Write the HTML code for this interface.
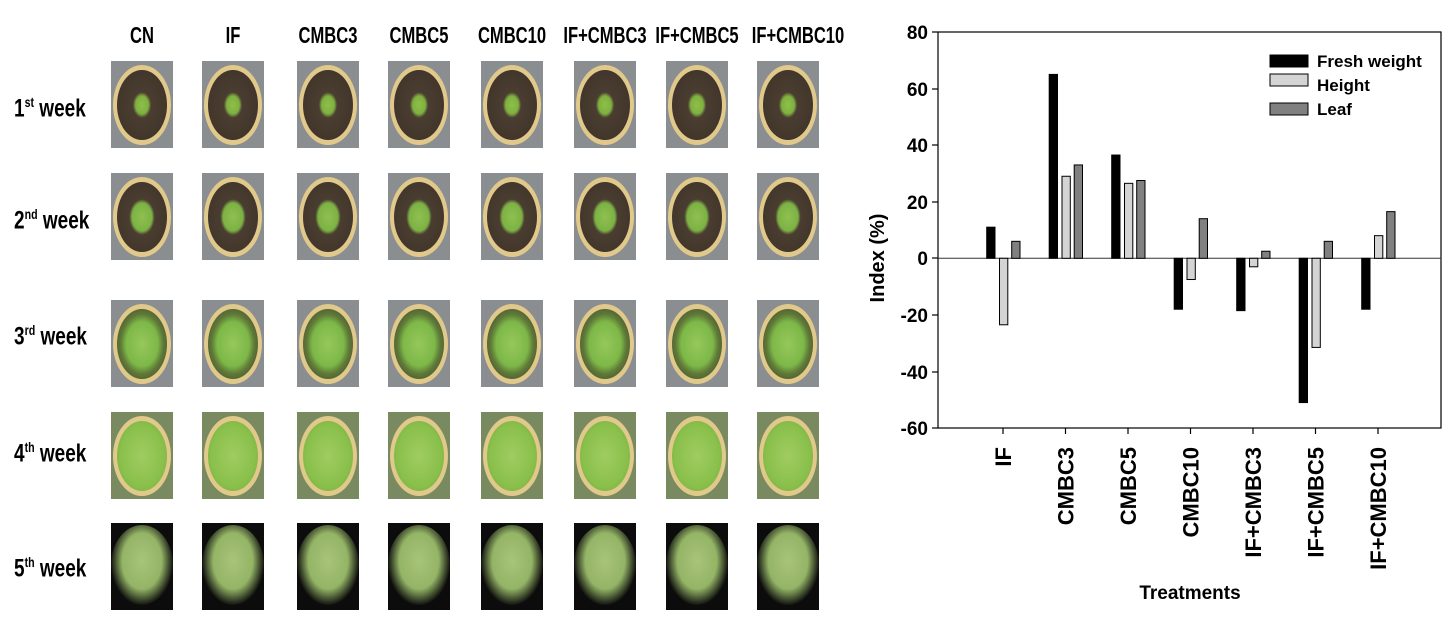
<!DOCTYPE html>
<html><head><meta charset="utf-8"><style>
body{margin:0;width:1455px;height:636px;background:#fff;position:relative;overflow:hidden;font-family:"Liberation Sans",sans-serif}
.h{position:absolute;top:22px;font-size:23px;font-weight:bold;transform:scaleX(.72);transform-origin:center;white-space:nowrap;text-align:center;width:140px;font-family:"Liberation Sans","Noto Sans CJK KR",sans-serif}
.w{position:absolute;left:14px;font-size:25px;font-weight:bold;transform:scaleX(.76);transform-origin:left;white-space:nowrap}
.w sup{font-size:14px}
.p{position:absolute;width:62px;height:87px;background:#8a8e90;overflow:hidden}
.p::before{content:"";position:absolute;left:2px;top:4px;width:58px;height:80px;border-radius:50%;background:#e0c98a}
.p::after{content:"";position:absolute;left:6px;top:9px;width:50px;height:70px;border-radius:50%;background:radial-gradient(ellipse at center,#8fbf4a 0,#7fb040 18%,#4a3d30 26%,#3d3128 100%)}
.r2::after{background:radial-gradient(ellipse at center,#8fc050 0,#7cb244 28%,#4a3d30 36%,#3d3128 100%)}
.r3::after{background:radial-gradient(ellipse at center,#96c85a 0,#7db848 45%,#5f7a38 60%,#3d3128 100%)}
.r4::after{background:radial-gradient(ellipse at center,#a0cc60 0,#8ac04c 60%,#78a840 100%)}
.r4{background:#7a8a60}
.r5{background:#0c0c0c}
.r5::before{background:radial-gradient(ellipse at 50% 45%,#a8c478 0,#94b466 45%,#0c0c0c 72%);left:0;top:2px;width:62px;height:80px}
.r5::after{display:none}
</style></head><body>
<div class="h" style="left:72px">CN</div>
<div class="h" style="left:163px">IF</div>
<div class="h" style="left:258px">CMBC3</div>
<div class="h" style="left:349px">CMBC5</div>
<div class="h" style="left:442px">CMBC10</div>
<div class="h" style="left:535px">IF+CMBC3</div>
<div class="h" style="left:627px">IF+CMBC5</div>
<div class="h" style="left:728px">IF+CMBC10</div>
<div class="w" style="top:94px">1<sup>st</sup> week</div>
<div class="w" style="top:206px">2<sup>nd</sup> week</div>
<div class="w" style="top:322px">3<sup>rd</sup> week</div>
<div class="w" style="top:439px">4<sup>th</sup> week</div>
<div class="w" style="top:554px">5<sup>th</sup> week</div>
<div id="grid"></div>
<script>
var xs=[111,202,297,388,481,574,666,757],ys=[61,173,300,412,523],h='';
for(var r=0;r<5;r++)for(var c=0;c<8;c++)h+='<div class="p r'+(r+1)+'" style="left:'+xs[c]+'px;top:'+ys[r]+'px"></div>';
document.getElementById('grid').innerHTML=h;
</script>
<svg width="1455" height="636" style="position:absolute;left:0;top:0" font-family="Liberation Sans, sans-serif" font-weight="bold">
<rect x="938" y="32" width="503" height="396" fill="none" stroke="#000" stroke-width="1.2"/>
<g font-size="19" text-anchor="end">
<text x="928" y="39">80</text><text x="928" y="96">60</text><text x="928" y="152">40</text><text x="928" y="209">20</text><text x="928" y="265">0</text><text x="928" y="322">-20</text><text x="928" y="379">-40</text><text x="928" y="435">-60</text>
</g>
<g stroke="#000" stroke-width="1.2">
<line x1="932" y1="32" x2="938" y2="32"/><line x1="932" y1="89" x2="938" y2="89"/><line x1="932" y1="145" x2="938" y2="145"/><line x1="932" y1="202" x2="938" y2="202"/><line x1="932" y1="258" x2="938" y2="258"/><line x1="932" y1="315" x2="938" y2="315"/><line x1="932" y1="372" x2="938" y2="372"/><line x1="932" y1="428" x2="938" y2="428"/>
</g>
<line x1="938" y1="258.3" x2="1441" y2="258.3" stroke="#333" stroke-width="1"/>
<g id="bars"></g>
<text transform="translate(884,258) rotate(-90)" font-size="20" text-anchor="middle">Index (%)</text>
<text x="1190" y="599" font-size="19" text-anchor="middle">Treatments</text>
<rect x="1270" y="55" width="38" height="12" fill="#000" stroke="#000"/>
<rect x="1270" y="74" width="38" height="12" fill="#d4d4d4" stroke="#000"/>
<rect x="1270" y="103" width="38" height="12" fill="#808080" stroke="#000"/>
<g font-size="17"><text x="1317" y="67">Fresh weight</text><text x="1317" y="91">Height</text><text x="1317" y="115">Leaf</text></g>
</svg>
<script>
var d=[["IF",11,-23.5,6],["CMBC3",65,29,33],["CMBC5",36.5,26.5,27.5],["CMBC10",-18,-7.5,14],["IF+CMBC3",-18.5,-3,2.5],["IF+CMBC5",-51,-31.5,6],["IF+CMBC10",-18,8,16.5]];
var cols=["#000","#d4d4d4","#808080"],offs=[-16.3,-3.5,8.7],s='',z=258.3,k=2.829;
d.forEach(function(g,i){var cx=1003+i*62.5;
 s+='<line x1="'+cx+'" y1="428" x2="'+cx+'" y2="434" stroke="#000" stroke-width="1.2"/>';
 for(var j=0;j<3;j++){var v=g[j+1],y=v>0?z-v*k:z,hh=Math.abs(v)*k;
  s+='<rect x="'+(cx+offs[j])+'" y="'+y+'" width="8.3" height="'+hh+'" fill="'+cols[j]+'" stroke="#000" stroke-width="1"/>';}
 s+='<text transform="translate('+(cx+8)+',447) rotate(-90)" font-size="22" text-anchor="end">'+g[0]+'</text>';
});
document.getElementById('bars').innerHTML=s;
</script>
</body></html>
